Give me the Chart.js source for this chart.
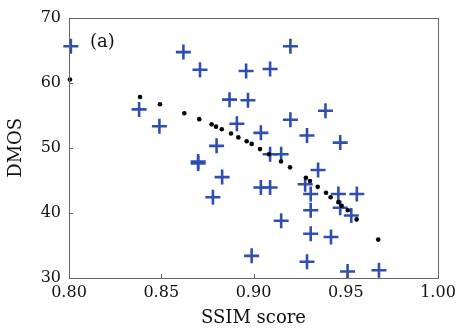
<!DOCTYPE html>
<html>
<head>
<meta charset="utf-8">
<script src="https://cdn.jsdelivr.net/npm/chart.js@4.4.1/dist/chart.umd.min.js"></script>
<style>
  html, body { margin: 0; padding: 0; background: #fff; }
  #wrap { width: 461px; height: 331px; }
</style>
</head>
<body>
<div id="wrap"><canvas id="c"></canvas></div>
<script>
// measured points (blue crosses)
const ssim = [0.801, 0.838, 0.849, 0.862, 0.871, 0.896, 0.909, 0.920, 0.887, 0.897,
              0.891, 0.880, 0.870, 0.870, 0.883, 0.878, 0.899, 0.904, 0.909, 0.904,
              0.920, 0.939, 0.929, 0.947, 0.909, 0.915, 0.935, 0.928, 0.931, 0.946,
              0.956, 0.931, 0.947, 0.953, 0.915, 0.931, 0.942, 0.929, 0.951, 0.968];
const dmos = [65.6, 55.9, 53.3, 64.7, 62.0, 61.8, 62.1, 65.6, 57.4, 57.3,
              53.7, 50.3, 47.9, 47.6, 45.5, 42.4, 33.4, 43.9, 43.9, 52.3,
              54.3, 55.7, 51.9, 50.8, 49.0, 49.0, 46.6, 44.4, 42.9, 42.9,
              42.9, 40.4, 40.8, 39.6, 38.8, 36.8, 36.3, 32.5, 31.0, 31.2];

// fitted curve (black dots)
const fitX = [0.8005, 0.8385, 0.8493, 0.8625, 0.8706, 0.8773, 0.8797, 0.8828, 0.8878, 0.8918,
              0.8963, 0.8990, 0.9035, 0.9084, 0.9149, 0.9198, 0.9284, 0.9306, 0.9348, 0.9393,
              0.9418, 0.9460, 0.9478, 0.9511, 0.9559, 0.9676];
const fitY = [60.5, 57.8, 56.7, 55.3, 54.4, 53.6, 53.25, 52.85, 52.2, 51.6,
              51.0, 50.6, 49.8, 49.0, 47.9, 47.0, 45.4, 44.9, 44.0, 43.1,
              42.4, 41.65, 41.1, 40.4, 39.0, 35.9];

const xTicks = [0.80, 0.85, 0.90, 0.95, 1.00];
const yTicks = [30, 40, 50, 60, 70];

const serif = "'DejaVu Serif', 'Liberation Serif', serif";

// box round the plot + small inward ticks
const boxPlugin = {
  id: 'box',
  afterDraw(chart) {
    const ctx = chart.ctx;
    const a = chart.chartArea;
    const xs = chart.scales.x, ys = chart.scales.y;
    ctx.save();
    ctx.strokeStyle = '#666';
    ctx.lineWidth = 1;
    ctx.strokeRect(Math.round(a.left) + 0.5, Math.round(a.top) + 0.5,
                   Math.round(a.right - a.left), Math.round(a.bottom - a.top));
    ctx.beginPath();
    xTicks.forEach(v => {
      const px = Math.round(xs.getPixelForValue(v)) + 0.5;
      ctx.moveTo(px, a.bottom);
      ctx.lineTo(px, a.bottom - 4);
    });
    yTicks.forEach(v => {
      const py = Math.round(ys.getPixelForValue(v)) + 0.5;
      ctx.moveTo(a.left, py);
      ctx.lineTo(a.left + 4, py);
    });
    ctx.stroke();
    ctx.fillStyle = '#111';
    ctx.font = '18px ' + serif;
    ctx.textBaseline = 'middle';
    ctx.fillText('(a)', a.left + 21, a.top + 25);
    ctx.restore();
  }
};

new Chart(document.getElementById('c'), {
  type: 'scatter',
  data: {
    datasets: [
      {
        label: 'fit',
        data: fitX.map((x, i) => ({ x: x, y: fitY[i] })),
        pointStyle: 'circle',
        pointRadius: 2.3,
        backgroundColor: '#000',
        borderColor: '#000',
        borderWidth: 0
      },
      {
        label: 'data',
        data: ssim.map((x, i) => ({ x: x, y: dmos[i] })),
        pointStyle: 'cross',
        pointRadius: 7.5,
        borderColor: '#2f4fb0',
        borderWidth: 2.6
      }
    ]
  },
  options: {
    responsive: true,
    maintainAspectRatio: false,
    animation: false,
    clip: false,
    layout: { padding: { top: 16, right: 23, left: 0, bottom: 0 } },
    plugins: { legend: { display: false }, tooltip: { enabled: false } },
    scales: {
      x: {
        type: 'linear',
        min: 0.8,
        max: 1.0,
        afterBuildTicks: s => { s.ticks = xTicks.map(v => ({ value: v })); },
        afterFit: s => { s.height = 53; },
        grid: { display: false, drawTicks: false },
        border: { display: false },
        ticks: {
          color: '#111',
          padding: 5,
          font: { family: serif, size: 16 },
          callback: v => v.toFixed(2)
        },
        title: {
          display: true,
          text: 'SSIM score',
          color: '#111',
          font: { family: serif, size: 18 },
          padding: { top: 0, bottom: 2 }
        }
      },
      y: {
        type: 'linear',
        min: 30,
        max: 70,
        afterBuildTicks: s => { s.ticks = yTicks.map(v => ({ value: v })); },
        afterFit: s => { s.width = 69; },
        grid: { display: false, drawTicks: false },
        border: { display: false },
        ticks: {
          color: '#111',
          padding: 8,
          font: { family: serif, size: 16 }
        },
        title: {
          display: true,
          text: 'DMOS',
          color: '#111',
          font: { family: serif, size: 18 },
          padding: { top: 6, bottom: 0 }
        }
      }
    }
  },
  plugins: [boxPlugin]
});
</script>
</body>
</html>
